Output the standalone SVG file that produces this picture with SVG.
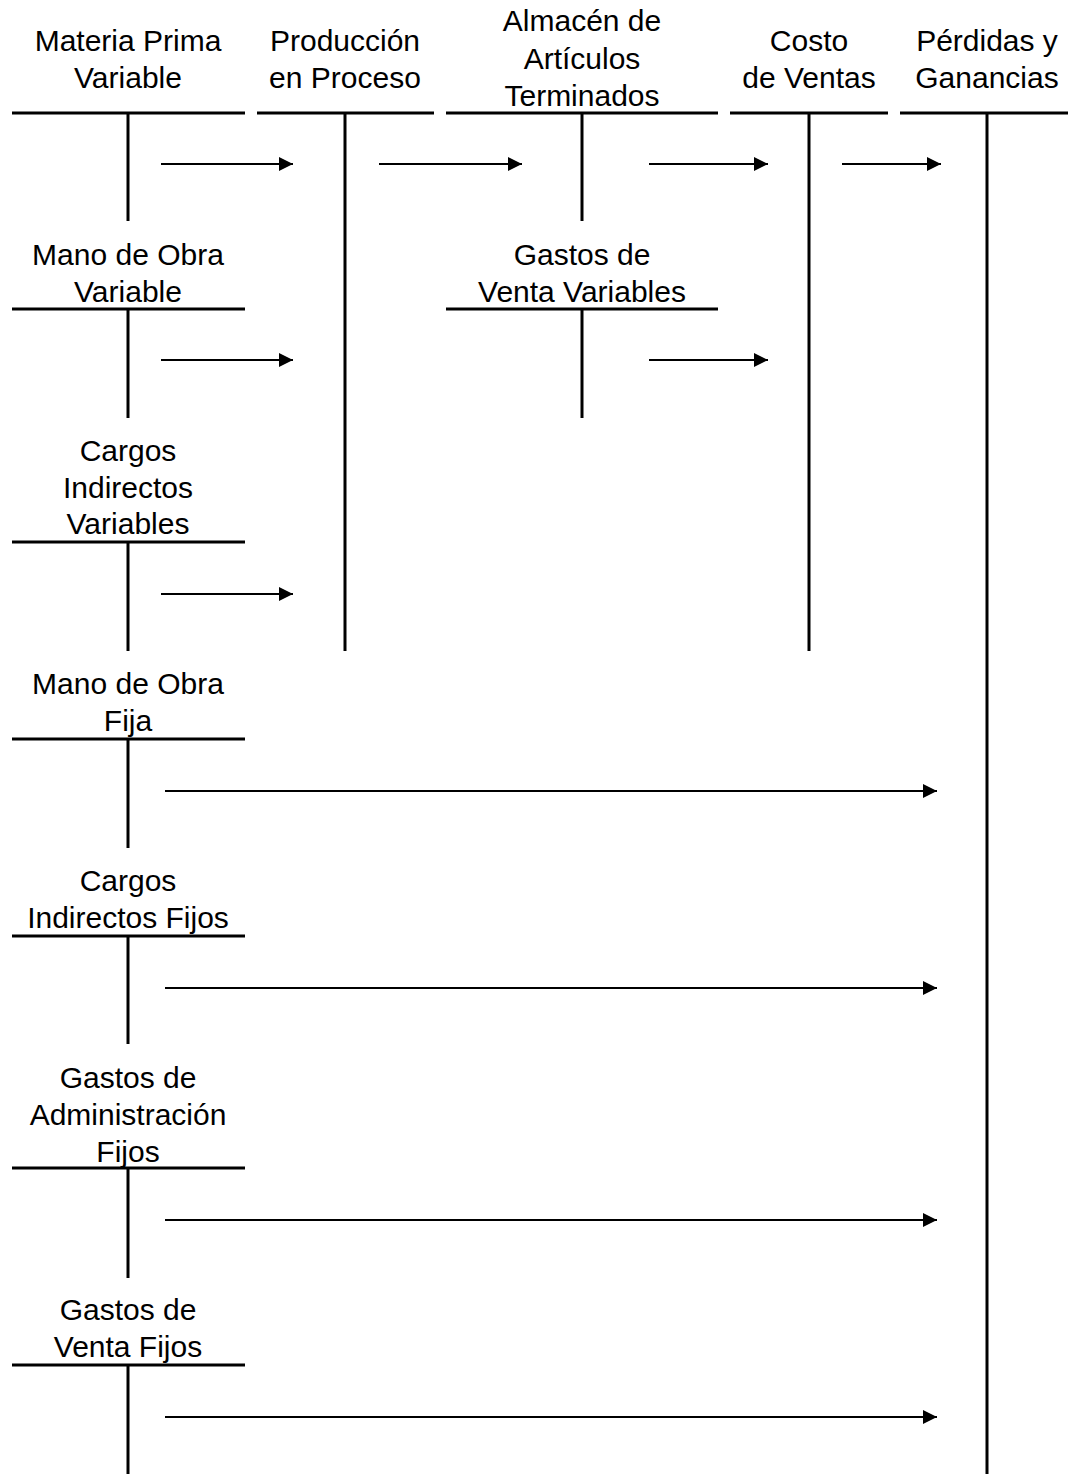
<svg xmlns="http://www.w3.org/2000/svg" width="1068" height="1474" viewBox="0 0 1068 1474">
<style>
text{font-family:"Liberation Sans",Arial,sans-serif;font-size:30px;fill:#000;text-anchor:middle}
.h{stroke:#000;stroke-width:3;fill:none}
.v{stroke:#000;stroke-width:3;fill:none}
.a{stroke:#000;stroke-width:2;fill:none;marker-end:url(#ah)}
</style>
<defs>
<marker id="ah" markerUnits="userSpaceOnUse" markerWidth="16" markerHeight="14" refX="14" refY="7" orient="auto">
<path d="M0,0 L14,7 L0,14 Z" fill="#000"/>
</marker>
</defs>
<rect width="1068" height="1474" fill="#fff"/>
<g id="materia-prima-variable">
<text x="128" y="51">Materia Prima</text><text x="128" y="88">Variable</text>
<line class="h" x1="12" y1="113" x2="245" y2="113"/><line class="v" x1="128" y1="113" x2="128" y2="221"/>
</g>
<g id="produccion-en-proceso">
<text x="345" y="51">Producción</text><text x="345" y="88">en Proceso</text>
<line class="h" x1="257" y1="113" x2="434" y2="113"/><line class="v" x1="345" y1="113" x2="345" y2="651"/>
</g>
<g id="almacen-articulos-terminados">
<text x="582" y="31">Almacén de</text><text x="582" y="69">Artículos</text><text x="582" y="106">Terminados</text>
<line class="h" x1="446" y1="113" x2="718" y2="113"/><line class="v" x1="582" y1="113" x2="582" y2="221"/>
</g>
<g id="costo-de-ventas">
<text x="809" y="51">Costo</text><text x="809" y="88">de Ventas</text>
<line class="h" x1="730" y1="113" x2="888" y2="113"/><line class="v" x1="809" y1="113" x2="809" y2="651"/>
</g>
<g id="perdidas-y-ganancias">
<text x="987" y="51">Pérdidas y</text><text x="987" y="88">Ganancias</text>
<line class="h" x1="900" y1="113" x2="1068" y2="113"/><line class="v" x1="987" y1="113" x2="987" y2="1474"/>
</g>
<g id="mano-obra-variable">
<text x="128" y="265">Mano de Obra</text><text x="128" y="302">Variable</text>
<line class="h" x1="12" y1="309" x2="245" y2="309"/><line class="v" x1="128" y1="309" x2="128" y2="418"/>
</g>
<g id="gastos-venta-variables">
<text x="582" y="265">Gastos de</text><text x="582" y="302">Venta Variables</text>
<line class="h" x1="446" y1="309" x2="718" y2="309"/><line class="v" x1="582" y1="309" x2="582" y2="418"/>
</g>
<g id="cargos-indirectos-variables">
<text x="128" y="461">Cargos</text><text x="128" y="498">Indirectos</text><text x="128" y="534">Variables</text>
<line class="h" x1="12" y1="542" x2="245" y2="542"/><line class="v" x1="128" y1="542" x2="128" y2="651"/>
</g>
<g id="mano-obra-fija">
<text x="128" y="694">Mano de Obra</text><text x="128" y="731">Fija</text>
<line class="h" x1="12" y1="739" x2="245" y2="739"/><line class="v" x1="128" y1="739" x2="128" y2="848"/>
</g>
<g id="cargos-indirectos-fijos">
<text x="128" y="891">Cargos</text><text x="128" y="928">Indirectos Fijos</text>
<line class="h" x1="12" y1="936" x2="245" y2="936"/><line class="v" x1="128" y1="936" x2="128" y2="1044"/>
</g>
<g id="gastos-administracion-fijos">
<text x="128" y="1088">Gastos de</text><text x="128" y="1125">Administración</text><text x="128" y="1162">Fijos</text>
<line class="h" x1="12" y1="1168" x2="245" y2="1168"/><line class="v" x1="128" y1="1168" x2="128" y2="1278"/>
</g>
<g id="gastos-venta-fijos">
<text x="128" y="1320">Gastos de</text><text x="128" y="1357">Venta Fijos</text>
<line class="h" x1="12" y1="1365" x2="245" y2="1365"/><line class="v" x1="128" y1="1365" x2="128" y2="1474"/>
</g>
<g id="connectors">
<line class="a" x1="161" y1="164" x2="293" y2="164"/>
<line class="a" x1="379" y1="164" x2="522" y2="164"/>
<line class="a" x1="649" y1="164" x2="768" y2="164"/>
<line class="a" x1="842" y1="164" x2="941" y2="164"/>
<line class="a" x1="161" y1="360" x2="293" y2="360"/>
<line class="a" x1="649" y1="360" x2="768" y2="360"/>
<line class="a" x1="161" y1="594" x2="293" y2="594"/>
<line class="a" x1="165" y1="791" x2="937" y2="791"/>
<line class="a" x1="165" y1="988" x2="937" y2="988"/>
<line class="a" x1="165" y1="1220" x2="937" y2="1220"/>
<line class="a" x1="165" y1="1417" x2="937" y2="1417"/>
</g>
</svg>
